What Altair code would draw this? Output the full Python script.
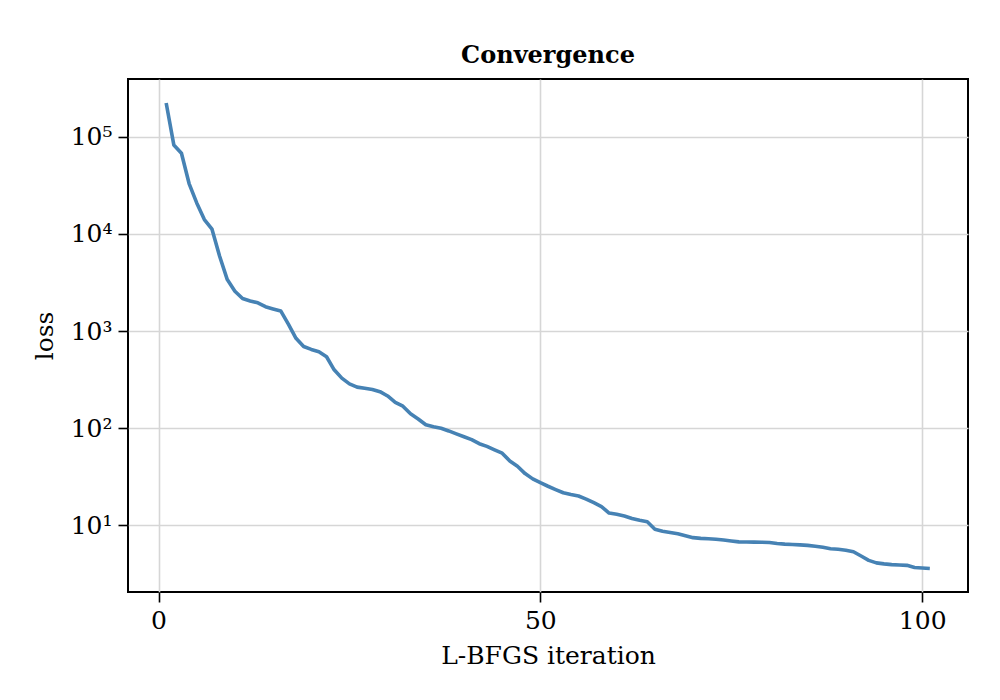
import altair as alt
import pandas as pd

# L-BFGS loss history, one value per iteration
iterations = list(range(1, 102))
loss = [
    224000, 82800, 67900, 33100, 20900, 14100, 11200, 5890, 3390, 2570,
    2160, 2040, 1950, 1780, 1690, 1610, 1175, 841, 692, 646,
    612, 543, 398, 327, 285, 264, 257, 250, 237, 214,
    184, 168, 140, 124, 108, 103, 99.3, 93.3, 87.1, 81.3,
    75.9, 68.9, 64.6, 59.6, 55.0, 45.7, 40.3, 33.9, 29.9, 27.3,
    25.1, 23.2, 21.5, 20.6, 19.9, 18.5, 17.0, 15.5, 13.3, 12.9,
    12.4, 11.7, 11.2, 10.8, 9.04, 8.61, 8.36, 8.13, 7.76, 7.41,
    7.28, 7.21, 7.13, 7.00, 6.84, 6.70, 6.68, 6.67, 6.65, 6.61,
    6.46, 6.35, 6.30, 6.24, 6.17, 6.05, 5.89, 5.70, 5.62, 5.50,
    5.31, 4.79, 4.32, 4.07, 3.98, 3.91, 3.87, 3.84, 3.65, 3.61,
    3.57,
]

x_ticks = [0, 50, 100]
y_ticks = [10, 100, 1000, 10000, 100000]

df = pd.DataFrame({"iteration": iterations, "loss": loss})

FONT = "DejaVu Serif"
SIZE = 25

chart = (
    alt.Chart(df)
    .mark_line(color="#4682b4", strokeWidth=3.6, strokeJoin="round")
    .encode(
        x=alt.X(
            "iteration:Q",
            scale=alt.Scale(domain=[-4, 106], nice=False, zero=False),
            axis=alt.Axis(
                values=x_ticks,
                title="L-BFGS iteration",
                format="d",
            ),
        ),
        y=alt.Y(
            "loss:Q",
            scale=alt.Scale(type="log", domain=[2.04, 396000], nice=False),
            axis=alt.Axis(
                values=y_ticks,
                title="loss",
                labelExpr="'10' + ['⁰','¹','²','³','⁴','⁵','⁶'][round(log(datum.value)/LN10)]",
            ),
        ),
    )
    .properties(
        width=840,
        height=513,
        title=alt.TitleParams(
            "Convergence",
            font=FONT,
            fontSize=24,
            fontWeight="bold",
            color="black",
            anchor="middle",
            offset=11,
        ),
        autosize=alt.AutoSizeParams(type="none"),
        padding={"left": 128, "top": 79, "right": 32, "bottom": 108},
        background="white",
    )
    .configure_view(stroke="black", strokeWidth=2)
    .configure_axis(
        domain=False,
        grid=True,
        gridColor="#d6d6d6",
        gridWidth=1.6,
        ticks=True,
        tickColor="black",
        tickSize=10,
        tickWidth=1.6,
        labelFont=FONT,
        labelFontSize=SIZE,
        labelColor="black",
        labelPadding=6,
        titleFont=FONT,
        titleFontSize=SIZE,
        titleFontWeight="normal",
        titleColor="black",
    )
    .configure_axisX(titlePadding=10)
    .configure_axisY(titlePadding=13)
)

chart.save("out.html", embed_options={"renderer": "svg", "actions": False})
